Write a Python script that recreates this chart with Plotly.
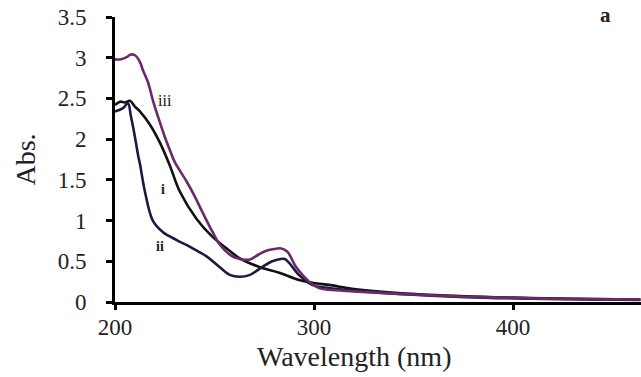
import plotly.graph_objects as go

# Curve iii (purple)
wl_iii = [200, 203, 206, 208, 210, 212.5, 214, 216.7, 219, 221.7, 225, 227.5, 230, 236, 240, 244, 249, 252.5, 259,
          262.5, 267.5, 272, 276, 280, 283, 286.5, 291, 297.5, 302.5, 307.5, 320, 342.5, 376, 409, 440, 464]
abs_iii = [2.98, 2.98, 3.01, 3.04, 3.03, 2.95, 2.85, 2.69, 2.48, 2.27, 2.03, 1.87, 1.72, 1.48, 1.30, 1.10, 0.86, 0.71, 0.56,
           0.53, 0.52, 0.58, 0.63, 0.65, 0.66, 0.62, 0.43, 0.25, 0.17, 0.15, 0.13, 0.10, 0.065, 0.045, 0.035, 0.03]

# Curve i (black)
wl_i = [200, 202.5, 205, 207.5, 210, 212.5, 217.5, 222.5, 227.5, 232.5, 241, 249, 256, 262.5, 272.5, 282.5, 292.5,
        301, 307.5, 320, 342.5, 376, 409, 440, 464]
abs_i = [2.42, 2.46, 2.45, 2.47, 2.40, 2.34, 2.18, 1.96, 1.68, 1.36, 1.02, 0.80, 0.66, 0.54, 0.43, 0.36, 0.27,
         0.23, 0.21, 0.16, 0.11, 0.07, 0.05, 0.035, 0.03]

# Curve ii (dark navy)
wl_ii = [200, 204, 206.5, 208, 210, 211.7, 212.5, 215, 219, 224, 231, 237.5, 246, 252.5, 258, 262.5, 267.5, 274, 279,
         285, 287.5, 292.5, 299, 307.5, 320, 342.5, 376, 409, 440, 464]
abs_ii = [2.34, 2.38, 2.44, 2.28, 2.03, 1.79, 1.70, 1.36, 1.0, 0.86, 0.76, 0.68, 0.56, 0.43, 0.33, 0.31, 0.33, 0.43, 0.50,
          0.53, 0.48, 0.33, 0.21, 0.17, 0.14, 0.10, 0.06, 0.04, 0.03, 0.025]

x_ticks = [200, 300, 400]
y_ticks = [0, 0.5, 1, 1.5, 2, 2.5, 3, 3.5]
y_tick_text = ["0", "0.5", "1", "1.5", "2", "2.5", "3", "3.5"]

fig = go.Figure()
fig.add_trace(go.Scatter(x=wl_i, y=abs_i, mode="lines", line=dict(color="#111111", width=2.6, shape="spline"), showlegend=False))
fig.add_trace(go.Scatter(x=wl_ii, y=abs_ii, mode="lines", line=dict(color="#1c1a40", width=2.6, shape="spline"), showlegend=False))
fig.add_trace(go.Scatter(x=wl_iii, y=abs_iii, mode="lines", line=dict(color="#6a2a6a", width=2.6, shape="spline"), showlegend=False))

fnt = "Liberation Serif, Times New Roman, serif"
L, T, R, B = 115, 17, 641, 302  # plot area in page pixels


def px_x(px):
    return (px - L) / (R - L)


def px_y(py):
    return (B - py) / (B - T)


fig.add_annotation(x=225, y=2.48, text="iii", showarrow=False, font=dict(family=fnt, size=16, color="#111"))
fig.add_annotation(x=224, y=1.38, text="<b>i</b>", showarrow=False, font=dict(family=fnt, size=14, color="#222"))
fig.add_annotation(x=222.6, y=0.68, text="<b>ii</b>", showarrow=False, font=dict(family=fnt, size=14, color="#222"))
fig.add_annotation(x=px_x(605), y=px_y(15), xref="paper", yref="paper", text="<b>a</b>",
                   showarrow=False, xanchor="center", yanchor="middle",
                   font=dict(family=fnt, size=21, color="#222"))
# x-axis title (placed like the reference, left of the domain centre)
fig.add_annotation(x=px_x(354), y=px_y(356), xref="paper", yref="paper", text="Wavelength (nm)",
                   showarrow=False, xanchor="center", yanchor="middle",
                   font=dict(family=fnt, size=28, color="#222"))

fig.update_layout(
    width=641, height=377,
    margin=dict(l=L, r=641 - R, t=T, b=377 - B),
    paper_bgcolor="white", plot_bgcolor="white",
    font=dict(family=fnt, color="#222"),
    xaxis=dict(range=[200, 464.3], tickvals=x_ticks, showgrid=False, zeroline=False, automargin=False,
               showline=True, linecolor="black", linewidth=3, ticks="outside", ticklen=5, tickwidth=2.5,
               tickcolor="black", tickfont=dict(size=23, family=fnt, color="#222"), ticklabelstandoff=-3,
               ticklabeloverflow="allow"),
    yaxis=dict(range=[0, 3.5], tickvals=y_ticks, ticktext=y_tick_text, showgrid=False, zeroline=False, automargin=False,
               showline=True, linecolor="black", linewidth=3, ticks="outside", ticklen=6, tickwidth=2.5,
               tickcolor="black", tickfont=dict(size=23, family=fnt, color="#222"), ticklabelstandoff=15,
               ticklabeloverflow="allow",
               title=dict(text="Abs.", font=dict(size=28, family=fnt, color="#222"), standoff=14)),
)

# remove the default 8px body margin so the figure fills the window exactly
fig.write_html("out.html", config={"displayModeBar": False},
               post_script="document.body.style.margin='0px';")
